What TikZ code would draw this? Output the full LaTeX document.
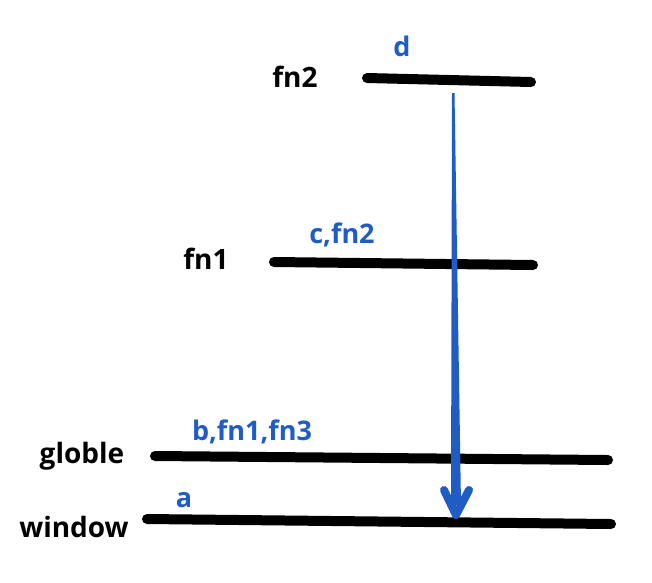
\documentclass[tikz,border=0pt]{standalone}
\usepackage{fontspec}
\setmainfont{Open Sans}
\definecolor{lblue}{HTML}{1F5CC4}
\begin{document}
\begin{tikzpicture}[x=1pt,y=-1pt,
  bar/.style={line width=10pt,line cap=round,black},
  lvl/.style={font=\fontsize{28}{30}\selectfont\bfseries,text=black,anchor=base,inner sep=0pt},
  var/.style={font=\fontsize{27}{30}\selectfont\bfseries,text=lblue,anchor=base,inner sep=0pt}]
\useasboundingbox[fill=white] (0,0) rectangle (652,582);
% level bars
\coordinate (f2a) at (367,78); \coordinate (f2b) at (531,82);
\coordinate (f1a) at (274,262); \coordinate (f1b) at (533,265);
\coordinate (gla) at (155,456); \coordinate (glb) at (608,460);
\coordinate (wia) at (147,519); \coordinate (wib) at (611,524);
\draw[bar] (f2a) -- (f2b);
\draw[bar] (f1a) -- (f1b);
\draw[bar] (gla) -- (glb);
\draw[bar] (wia) -- (wib);
% labels
\node[lvl] (lfn2) at (295,87) {fn2};
\node[lvl] (lfn1) at (206,269) {fn1};
\node[lvl] (lgl) at (82,463) {globle};
\node[lvl] (lwi) at (74,537) {window};
\node[var] (vd) at (402,56) {d};
\node[var] (vc) at (342,243) {c,fn2};
\node[var] (vb) at (252,440) {b,fn1,fn3};
\node[var] (va) at (184,507) {a};
% tapered arrow
\coordinate (atop) at (453,93);
\coordinate (atip) at (456,515);
\fill[lblue] (452,93) -- (454.5,93) -- (461,505) -- (451,505) -- cycle;
\draw[lblue,line width=8pt,line cap=round,line join=round] (444,490) -- (atip) -- (469,490);
\end{tikzpicture}
\end{document}
